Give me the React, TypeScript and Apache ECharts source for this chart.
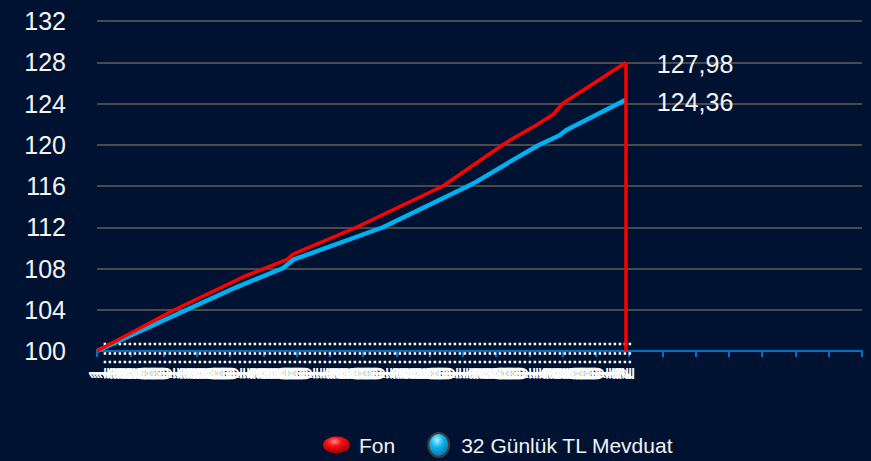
import React, { useEffect, useRef } from 'react';
import * as echarts from 'echarts';

const FONT = 'Arial, "Liberation Sans", Helvetica, sans-serif';
const BG = '#001232';

// ---- data ----
const dataDays = 160;      // daily (business day) points drawn
const axisSlots = 231;     // category slots on the x axis
const startDate = [2024, 0, 12];

function buildCategories(): string[] {
  const out: string[] = [];
  const d = new Date(Date.UTC(startDate[0], startDate[1], startDate[2]));
  while (out.length < dataDays) {
    const wd = d.getUTCDay();
    if (wd !== 0 && wd !== 6) {
      const dd = String(d.getUTCDate()).padStart(2, '0');
      const mm = String(d.getUTCMonth() + 1).padStart(2, '0');
      out.push(`${dd}.${mm}.${d.getUTCFullYear()}`);
    }
    d.setUTCDate(d.getUTCDate() + 1);
  }
  while (out.length < axisSlots) out.push('');
  return out;
}
const categories = buildCategories();

const fonName = 'Fon';
const fonIdx = [0, 23, 42, 44, 57, 59, 62, 78, 104, 111, 122, 125, 132, 137, 140, 159];
const fonValues = [100.0, 103.95, 106.88, 107.2, 108.85, 109.4, 109.8, 112.0, 116.0, 117.55, 120.0, 120.6, 121.9, 122.9, 124.0, 127.98];

const depName = '32 Günlük TL Mevduat';
const depIdx = [0, 27, 42, 56, 59, 86, 111, 114, 126, 133, 139, 141, 159];
const depValues = [100.0, 104.0, 106.2, 108.05, 108.85, 112.0, 115.9, 116.4, 118.7, 120.0, 120.9, 121.4, 124.36];

const dotLevels = [100.68, 99.76, 98.93];
const dotSpan = [2, 161];

const yMin = 100;
const yMax = 132;
const yStep = 4;

const fmt = (v: number) => v.toFixed(2).replace('.', ',');

const redIcon = 'path://M0,8.5A13.5,8.5,0,1,1,27,8.5A13.5,8.5,0,1,1,0,8.5Z';
const blueIcon = 'path://M0,12A10.5,12,0,1,1,21,12A10.5,12,0,1,1,0,12Z';

function buildOption() {
  const endLabel = {
    show: true,
    formatter: (p: any) => fmt(p.value[1]),
    color: '#f4f4f4',
    fontSize: 25,
    fontFamily: FONT,
    distance: 31,
    offset: [0, 2],
  };
  const dotSeries = dotLevels.map((v, k) => ({
    name: 'dots' + k,
    type: 'line',
    data: [[dotSpan[0], v], [dotSpan[1], v]],
    symbol: 'none',
    silent: true,
    clip: false,
    z: 1,
    lineStyle: { color: '#ffffff', width: 2.5, type: [2.5, 2.5] },
  }));
  return {
    animation: false,
    backgroundColor: BG,
    grid: { left: 97, right: 9, top: 21, bottom: 110, containLabel: false },
    legend: {
      left: 318,
      top: 427,
      padding: 5,
      itemWidth: 27,
      itemHeight: 24,
      itemGap: 32,
      textStyle: { color: '#f2f2f2', fontSize: 21, fontFamily: FONT, padding: [0, 0, 0, 4] },
      data: [
        {
          name: fonName,
          icon: redIcon,
          itemStyle: {
            color: {
              type: 'radial', x: 0.42, y: 0.3, r: 0.75,
              colorStops: [
                { offset: 0, color: '#ff9090' },
                { offset: 0.35, color: '#ff1010' },
                { offset: 1, color: '#8a0000' },
              ],
            },
            borderWidth: 0,
          },
        },
        {
          name: depName,
          icon: blueIcon,
          itemStyle: {
            color: {
              type: 'radial', x: 0.42, y: 0.3, r: 0.75,
              colorStops: [
                { offset: 0, color: '#b0f0ff' },
                { offset: 0.4, color: '#10b4f0' },
                { offset: 1, color: '#006a9a' },
              ],
            },
            borderColor: '#3c3c3c',
            borderWidth: 2,
          },
        },
      ],
    },
    xAxis: {
      type: 'category',
      data: categories,
      boundaryGap: false,
      axisLine: { show: true, lineStyle: { color: '#0070c0', width: 2 } },
      axisTick: { show: true, interval: 9, length: 6, lineStyle: { color: '#0070c0', width: 2 } },
      axisLabel: {
        interval: 0,
        rotate: 90,
        color: '#ffffff',
        fontSize: 24,
        fontFamily: FONT,
        width: 18,
        overflow: 'truncate',
        ellipsis: '',
        margin: 16,
      },
      splitLine: { show: false },
    },
    yAxis: {
      type: 'value',
      min: yMin,
      max: yMax,
      interval: yStep,
      axisLine: { show: false },
      axisTick: { show: false },
      axisLabel: { color: '#f4f4f4', fontSize: 25, fontFamily: FONT, margin: 31 },
      splitLine: { lineStyle: { color: '#4a4a4a', width: 2 } },
    },
    series: [
      ...dotSeries,
      {
        name: depName,
        type: 'line',
        data: depIdx.map((i, k) => [i, depValues[k]]),
        symbol: 'none',
        z: 3,
        lineStyle: { color: '#00b0f0', width: 4.5 },
        itemStyle: { color: '#00b0f0' },
        endLabel,
      },
      {
        name: fonName,
        type: 'line',
        data: fonIdx.map((i, k) => [i, fonValues[k]]),
        symbol: 'none',
        z: 4,
        lineStyle: { color: '#ff0000', width: 3.5 },
        itemStyle: { color: '#ff0000' },
        endLabel,
        markLine: {
          silent: true,
          symbol: ['none', 'none'],
          label: { show: false },
          lineStyle: { color: '#ff0000', width: 3.5, type: 'solid' },
          data: [[
            { coord: [fonIdx[fonIdx.length - 1], fonValues[fonValues.length - 1]] },
            { coord: [fonIdx[fonIdx.length - 1], yMin] },
          ]],
        },
      },
    ],
  };
}

export default function App() {
  const ref = useRef<HTMLDivElement>(null);
  useEffect(() => {
    const chart = echarts.init(ref.current!, undefined, { renderer: 'svg', width: 871, height: 461 });
    chart.setOption(buildOption() as any);
    return () => chart.dispose();
  }, []);
  return (
    <div
      ref={ref}
      style={{ position: 'fixed', left: 0, top: 0, width: 871, height: 461, background: BG }}
    />
  );
}
